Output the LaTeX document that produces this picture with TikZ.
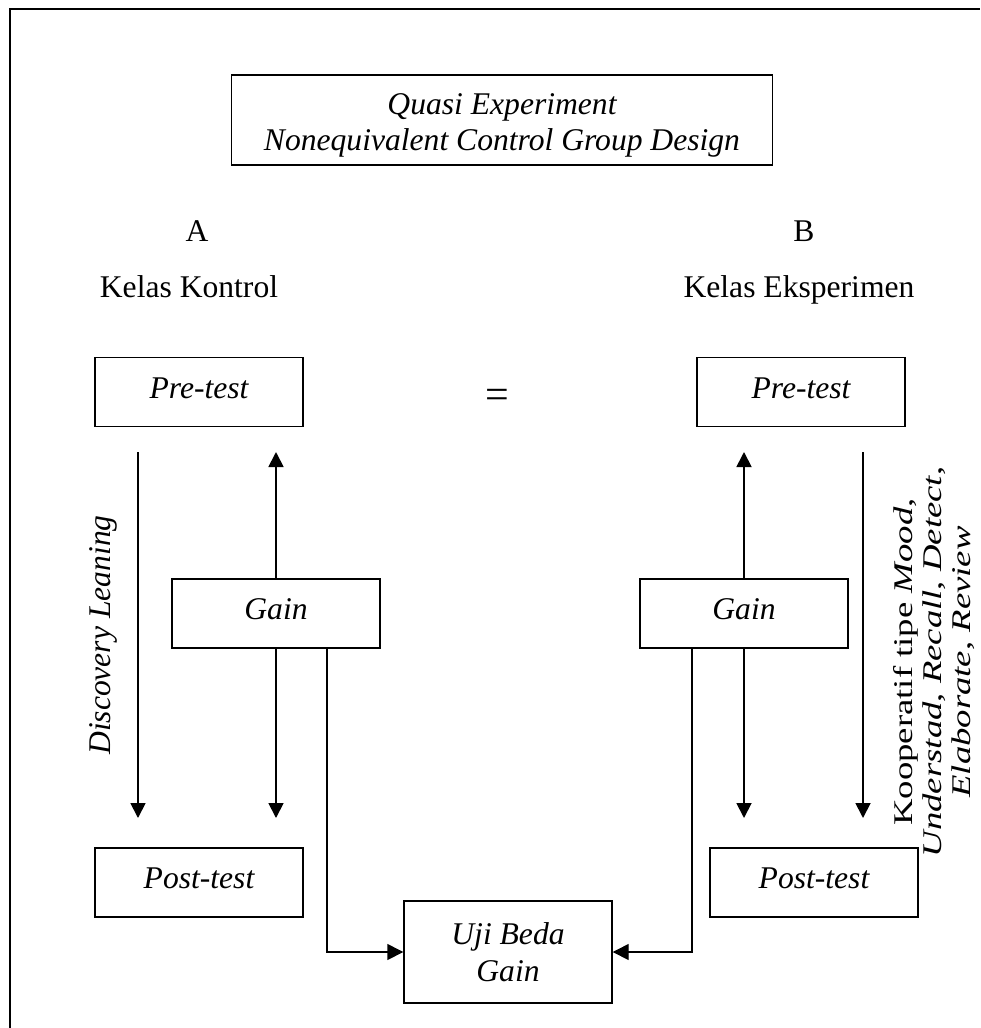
\documentclass[tikz,border=0pt]{standalone}
\usepackage{fontspec}
\setmainfont{Liberation Serif}
\usetikzlibrary{arrows.meta}
\newcommand\mybodyfont{\fontsize{31.6}{37}\selectfont}
\newcommand\myrotfont{\fontsize{27}{29}\selectfont}
\newcommand\stretchline[1]{\scalebox{1.36}[1]{#1}}
\begin{document}
\begin{tikzpicture}[x=1pt,y=-1pt,
  box/.style={draw, line width=1.4pt, minimum width=208pt, minimum height=69pt, inner sep=0pt,
              text height=22pt, text depth=10pt, font=\mybodyfont\itshape},
  arr/.style={line width=1.8pt, -{Triangle[length=15pt,width=15pt]}},
  conn/.style={line width=1.4pt, -{Triangle[length=16pt,width=16pt]}},
  lbl/.style={font=\mybodyfont, anchor=base, inner sep=0pt},
  frame/.style={line width=2pt}]
\useasboundingbox (0,0) rectangle (980,1028);
\draw[frame] (10,1028) -- (10,9) -- (980,9);

% title box
\node[draw, line width=1.4pt, minimum width=541pt, minimum height=90pt, inner sep=0pt] (title) at (502,120) {};
\node[lbl, font=\mybodyfont\itshape] (t1) at (502,114) {Quasi Experiment};
\node[lbl, font=\mybodyfont\itshape] (t2) at (502,150) {Nonequivalent Control Group Design};

% group labels
\node[lbl] (A) at (197,241) {A};
\node[lbl] (B) at (804,241) {B};
\node[lbl] (kk) at (189,297) {Kelas Kontrol};
\node[lbl] (ke) at (799,297) {Kelas Eksperimen};

% boxes
\node[box] (preA) at (199,392) {Pre-test};
\node[box] (preB) at (801,392) {Pre-test};
\node[box] (gainA) at (276,613.5) {Gain};
\node[box] (gainB) at (744,613.5) {Gain};
\node[box] (postA) at (199,882.5) {Post-test};
\node[box] (postB) at (814,882.5) {Post-test};
\node[box, minimum height=102pt, align=center, text height=, text depth=] (uji) at (508,952) {Uji Beda\\Gain};

\node[lbl, font=\fontsize{42}{42}\selectfont] (eq) at (497,408) {=};

% coordinates
\coordinate (dA1) at (138,452);
\coordinate (dA2) at (138,818);
\coordinate (upA) at (gainA.north |- dA1);
\coordinate (dnA) at (gainA.south |- dA2);
\coordinate (dB1) at (863,452);
\coordinate (dB2) at (863,818);
\coordinate (upB) at (gainB.north |- dB1);
\coordinate (dnB) at (gainB.south |- dB2);
\coordinate (cA) at (327,648);
\coordinate (cB) at (692,648);

% arrows
\draw[arr] (dA1) -- (dA2);
\draw[arr] (gainA.north) -- (upA);
\draw[arr] (gainA.south) -- (dnA);
\draw[arr] (dB1) -- (dB2);
\draw[arr] (gainB.north) -- (upB);
\draw[arr] (gainB.south) -- (dnB);
\draw[conn] (cA) |- (uji.west);
\draw[conn] (cB) |- (uji.east);

% rotated labels
\node[rotate=90, font=\mybodyfont\itshape, inner sep=0pt] (disc) at (103,635) {Discovery Leaning};
\node[rotate=90, font=\myrotfont, align=center, inner sep=0pt] (koop) at (934,662)
  {\stretchline{Kooperatif tipe \textit{Mood},}\\
   \stretchline{\textit{Understad}, \textit{Recall}, \textit{Detect},}\\
   \stretchline{\textit{Elaborate}, \textit{Review}}};
\end{tikzpicture}
\end{document}
